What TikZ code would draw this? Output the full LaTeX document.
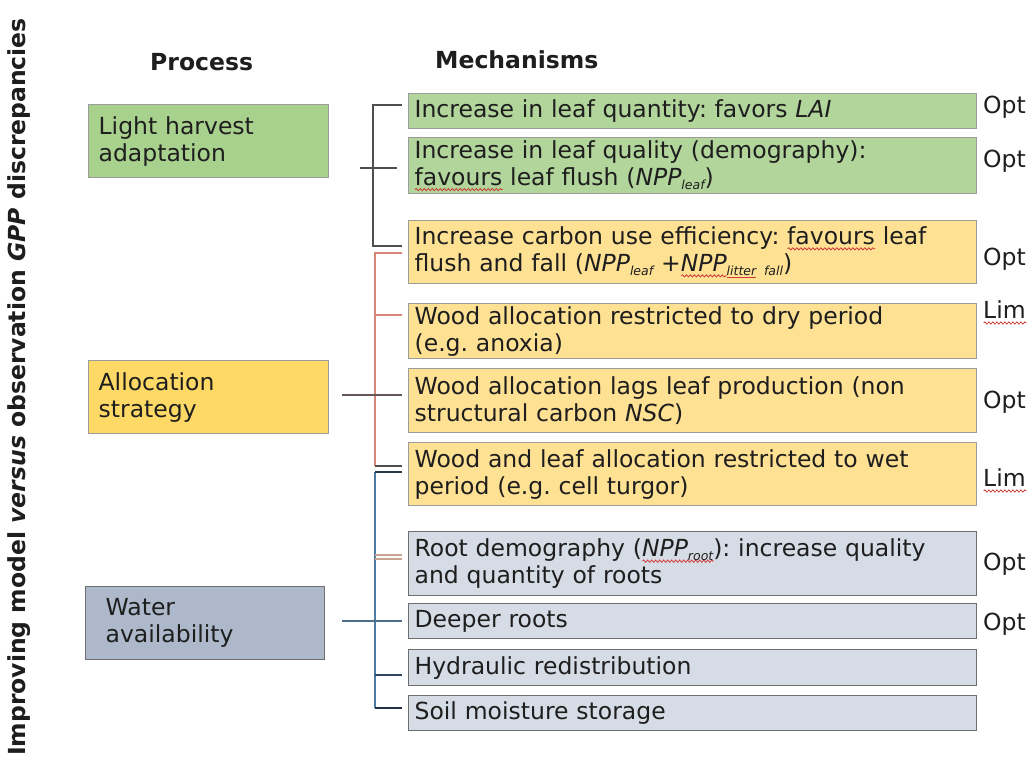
\documentclass[tikz,border=0pt]{standalone}
\usepackage{fontspec}
\setmainfont{DejaVu Sans}
\usetikzlibrary{calc,decorations.pathmorphing}

% fills and borders
\definecolor{lhFill}{HTML}{A9D18E}
\definecolor{alFill}{HTML}{FFD966}
\definecolor{waFill}{HTML}{ADB9CA}
\definecolor{mgFill}{HTML}{B2D59C}
\definecolor{myFill}{HTML}{FFE194}
\definecolor{mbFill}{HTML}{D6DCE5}
\definecolor{bdLight}{HTML}{9C9C9C}
\definecolor{bdDark}{HTML}{6E6E6E}
\definecolor{txt}{HTML}{1E1E1E}
% bracket colours
\definecolor{brGray}{HTML}{4F4F4F}
\definecolor{brRed}{HTML}{D98676}
\definecolor{brBlue}{HTML}{4C7CA4}
\definecolor{brTan}{HTML}{C9A48F}
\definecolor{brNavy}{HTML}{2E4660}
\definecolor{spellred}{HTML}{D03A3A}

\newcommand\boxfont{\fontsize{23.5}{27}\selectfont\frenchspacing}
\newcommand\headfont{\fontsize{23.5}{27}\selectfont\bfseries}
\newcommand\sub[1]{\raisebox{-4pt}{\fontsize{12.5}{13}\selectfont\itshape #1}}

% wavy spell-check underline and a plain red underline
\newsavebox\spellbox
\newcommand\spell[1]{\leavevmode\sbox\spellbox{#1}%
  \rlap{\tikz[baseline=0pt]\draw[spellred, line width=0.8pt, decorate,
      decoration={snake, amplitude=1.1pt, segment length=4pt}]
      (0pt,-4.5pt) -- (\wd\spellbox,-4.5pt);}%
  \usebox\spellbox}
\newcommand\redbar[1]{\leavevmode\sbox\spellbox{#1}%
  \rlap{\textcolor{spellred}{\rule[-2.5pt]{\wd\spellbox}{1pt}}}%
  \usebox\spellbox}

\begin{document}
\begin{tikzpicture}[x=1pt,y=-1pt,
  proc/.style 2 args={draw=#1, fill=#2, line width=1.3pt, anchor=north west,
    text width=220pt, inner xsep=10pt, inner ysep=0pt, minimum height=73pt,
    align=left, font=\boxfont, text=txt},
  mech/.style 2 args={draw=#1, fill=#2, line width=1.3pt, anchor=north west,
    text width=556pt, inner xsep=6pt, inner ysep=0pt,
    align=left, font=\boxfont, text=txt},
  lbl/.style={anchor=base west, inner sep=0pt, font=\boxfont, text=txt},
  head/.style={inner sep=0pt, font=\headfont, text=txt},
  brk/.style={line width=1.4pt},
]
\fill[white] (0,0) rectangle (1031,769);
\useasboundingbox (0,0) rectangle (1031,769);

% side title and column heads
\node[head, rotate=90] (ttl) at (19,387) {Improving model \textit{versus} observation \textit{GPP} discrepancies};
\node[head, anchor=west] (hp) at (150,62) {Process};
\node[head, anchor=west] (hm) at (435,60) {Mechanisms};

% processes
\node[proc={bdLight}{lhFill}] (lh) at (88,104) {Light harvest\\adaptation};
\node[proc={bdLight}{alFill}] (al) at (88,360) {Allocation\\strategy};
\node[proc={bdDark}{waFill}, inner xsep=20pt, text width=199pt] (wa) at (85,586) {Water\\availability};

% mechanisms
\node[mech={bdLight}{mgFill}, minimum height=35pt] (m1) at (408,93)
  {Increase in leaf quantity: favors \textit{LAI}};
\node[mech={bdLight}{mgFill}, minimum height=56pt] (m2) at (408,137)
  {Increase in leaf quality (demography):\\\spell{favours} leaf flush (\textit{NPP}\sub{leaf})};
\node[mech={bdLight}{myFill}, minimum height=63pt] (m3) at (408,220)
  {Increase carbon use efficiency: \spell{favours} leaf\\flush and fall (\textit{NPP}\sub{leaf} +\spell{\textit{NPP}}\sub{\redbar{litter} fall})};
\node[mech={bdLight}{myFill}, minimum height=55pt] (m4) at (408,303)
  {Wood allocation restricted to dry period\\(e.g. anoxia)};
\node[mech={bdLight}{myFill}, minimum height=64pt] (m5) at (408,368)
  {Wood allocation lags leaf production (non\\structural carbon \textit{NSC})};
\node[mech={bdLight}{myFill}, minimum height=63pt] (m6) at (408,442)
  {Wood and leaf allocation restricted to wet\\period (e.g. cell turgor)};
\node[mech={bdDark}{mbFill}, minimum height=64pt] (m7) at (408,531)
  {Root demography (\spell{\textit{NPP}\sub{root}}): increase quality\\and quantity of roots};
\node[mech={bdDark}{mbFill}, minimum height=35pt] (m8) at (408,603)
  {Deeper roots};
\node[mech={bdDark}{mbFill}, minimum height=36pt] (m9) at (408,649)
  {Hydraulic redistribution};
\node[mech={bdDark}{mbFill}, minimum height=35pt] (m10) at (408,695)
  {Soil moisture storage};

% outcome labels
\node[lbl] (o1) at (983,113.5) {Opt};
\node[lbl] (o2) at (983,167.5) {Opt};
\node[lbl] (o3) at (983,265.5) {Opt};
\node[lbl] (o4) at (983,318.5) {\spell{Lim}};
\node[lbl] (o5) at (983,408.5) {Opt};
\node[lbl] (o6) at (983,486.5) {\spell{Lim}};
\node[lbl] (o7) at (983,570.5) {Opt};
\node[lbl] (o8) at (983,630.5) {Opt};

% bracket: light harvest
\coordinate (gT) at (373,105);
\coordinate (gM) at (360,168);
\coordinate (gB) at (373,246);
\draw[brk, brGray] ($(gT -| m1.west)+(-6,0)$) -- (gT) -- (gB) -- ($(gB -| m3.west)+(-6,0)$);
\draw[brk, brGray, shorten >=11pt] (gM) -- (gM -| m2.west);

% bracket: allocation
\coordinate (rT) at (375,253);
\coordinate (r4) at (375,315);
\coordinate (rM) at (342,395);
\coordinate (rB) at (375,466);
\draw[line width=1.1pt, brRed] ($(rT -| m3.west)+(-6,0)$) -- (rT) -- (rB);
\draw[line width=1.1pt, brRed, shorten >=6pt] (r4) -- (r4 -| m4.west);
\draw[brk, brGray!85!brRed, shorten >=6pt] (rM) -- (rM -| m5.west);
\draw[line width=1.1pt, brGray, shorten >=6pt] (rB) -- (rB -| m6.west);

% bracket: water availability
\coordinate (bT) at (375,472);
\coordinate (b7a) at (375,555);
\coordinate (b7b) at (375,559);
\coordinate (bM) at (342,621);
\coordinate (b9) at (375,675);
\coordinate (bB) at (375,708);
\draw[brk, brBlue] (bT) -- (bB);
\draw[line width=1.1pt, brNavy!80!black, shorten >=6pt] (bT) -- (bT -| m6.west);
\draw[line width=1.1pt, brTan, shorten >=6pt] (b7a) -- (b7a -| m7.west);
\draw[line width=1.1pt, brTan, shorten >=6pt] (b7b) -- (b7b -| m7.west);
\draw[brk, brBlue!70!brGray, shorten >=6pt] (bM) -- (bM -| m8.west);
\draw[brk, brNavy, shorten >=6pt] (b9) -- (b9 -| m9.west);
\draw[brk, brNavy!70!black, shorten >=6pt] (bB) -- (bB -| m10.west);
\end{tikzpicture}
\end{document}
